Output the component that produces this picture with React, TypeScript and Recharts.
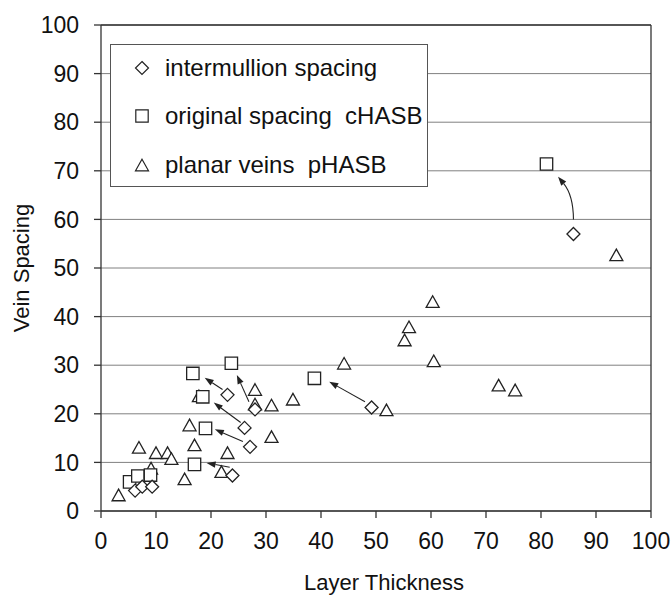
import React from "react";
import {
  ScatterChart, Scatter, XAxis, YAxis, CartesianGrid, Legend, ReferenceLine, Label,
} from "recharts";

const FONT = "'Liberation Sans', Arial, sans-serif";
const INK = "#222";

// intermullion spacing (diamonds)
const intermullion = [
  { x: 6.2, y: 4.2 }, { x: 7.5, y: 5.0 }, { x: 9.3, y: 5.0 }, { x: 23.9, y: 7.3 },
  { x: 27.1, y: 13.2 }, { x: 26.1, y: 17.1 }, { x: 28.0, y: 20.9 }, { x: 23.0, y: 23.9 },
  { x: 49.2, y: 21.3 }, { x: 85.9, y: 57.0 },
];

// original spacing cHASB (squares)
const original = [
  { x: 5.2, y: 6.0 }, { x: 6.7, y: 7.2 }, { x: 9.0, y: 7.4 }, { x: 17.0, y: 9.6 },
  { x: 19.0, y: 17.0 }, { x: 18.5, y: 23.5 }, { x: 23.7, y: 30.4 }, { x: 16.7, y: 28.3 },
  { x: 38.8, y: 27.3 }, { x: 81.0, y: 71.4 },
];

// planar veins pHASB (triangles)
const planar = [
  { x: 3.2, y: 3.3 }, { x: 9.1, y: 8.8 }, { x: 6.9, y: 13.1 }, { x: 10.0, y: 12.0 },
  { x: 12.1, y: 12.0 }, { x: 12.8, y: 10.8 }, { x: 15.2, y: 6.6 }, { x: 16.1, y: 17.7 },
  { x: 17.0, y: 13.6 }, { x: 17.8, y: 23.7 }, { x: 21.9, y: 8.1 }, { x: 23.0, y: 12.0 },
  { x: 28.0, y: 25.0 }, { x: 28.0, y: 22.0 }, { x: 31.0, y: 21.8 }, { x: 31.0, y: 15.3 },
  { x: 34.9, y: 23.0 }, { x: 44.2, y: 30.4 }, { x: 51.9, y: 20.8 }, { x: 55.2, y: 35.2 },
  { x: 56.0, y: 37.9 }, { x: 60.3, y: 43.1 }, { x: 60.5, y: 30.9 }, { x: 72.3, y: 25.9 },
  { x: 75.3, y: 24.9 }, { x: 93.7, y: 52.7 },
];

// arrows from intermullion point toward original spacing point (data units)
const arrows = [
  { x1: 6.2, y1: 4.7, x2: 5.5, y2: 6.0, bend: 0 },
  { x1: 7.5, y1: 5.0, x2: 7.0, y2: 6.4, bend: 0 },
  { x1: 9.25, y1: 5.0, x2: 9.25, y2: 6.4, bend: 0 },
  { x1: 23.4, y1: 9.0, x2: 19.2, y2: 9.9, bend: 0 },
  { x1: 25.8, y1: 14.3, x2: 20.7, y2: 16.8, bend: 0 },
  { x1: 25.4, y1: 18.2, x2: 20.5, y2: 22.3, bend: 0 },
  { x1: 22.1, y1: 25.0, x2: 18.85, y2: 27.4, bend: 0 },
  { x1: 26.9, y1: 22.5, x2: 24.7, y2: 28.0, bend: 0 },
  { x1: 48.0, y1: 22.5, x2: 41.5, y2: 26.6, bend: 0 },
  { x1: 85.9, y1: 60.0, x2: 83.1, y2: 68.8, bend: -8 },
];

const xTicks = [0, 10, 20, 30, 40, 50, 60, 70, 80, 90, 100];
const yTicks = [0, 10, 20, 30, 40, 50, 60, 70, 80, 90, 100];

const legendItems = [
  { name: "intermullion spacing", mark: "diamond" },
  { name: "original spacing\u00a0 cHASB", mark: "square" },
  { name: "planar veins\u00a0 pHASB", mark: "triangle" },
];

function markPath(kind: string, cx: number, cy: number) {
  if (kind === "diamond") {
    const r = 6.5;
    return `M${cx},${cy - r}L${cx + r},${cy}L${cx},${cy + r}L${cx - r},${cy}Z`;
  }
  if (kind === "square") {
    const h = 6.2;
    return `M${cx - h},${cy - h}H${cx + h}V${cy + h}H${cx - h}Z`;
  }
  const w = 6.5, h = 5.8;
  return `M${cx},${cy - h}L${cx + w},${cy + h}H${cx - w}Z`;
}

const shapeFor = (kind: string) => (p: any) => (
  <path d={markPath(kind, p.cx, p.cy)} fill="#fff" stroke={INK} strokeWidth={1.3} />
);

const arrowShape = (bend: number) => (p: any) => {
  const { x1, y1, x2, y2 } = p;
  if (x1 == null || x2 == null) return <g />;
  const dx = x2 - x1, dy = y2 - y1;
  const len = Math.hypot(dx, dy) || 1;
  // control point pushed sideways from the chord's midpoint
  const cx = (x1 + x2) / 2 + (dy / len) * bend;
  const cy = (y1 + y2) / 2 - (dx / len) * bend;
  const tx = bend ? x2 - cx : dx, ty = bend ? y2 - cy : dy;
  const tl = Math.hypot(tx, ty) || 1;
  const ux = tx / tl, uy = ty / tl;
  const hl = 9, hw = 3.2;
  const bx = x2 - ux * hl, by = y2 - uy * hl;
  const head = `M${x2},${y2}L${bx - uy * hw},${by + ux * hw}L${bx + uy * hw},${by - ux * hw}Z`;
  const d = bend ? `M${x1},${y1}Q${cx},${cy} ${bx},${by}` : `M${x1},${y1}L${bx},${by}`;
  return (
    <g>
      <path d={d} fill="none" stroke={INK} strokeWidth={1.1} />
      <path d={head} fill={INK} stroke="none" />
    </g>
  );
};

function LegendBox() {
  return (
    <div style={{
      position: "relative", width: 318, height: 143, boxSizing: "border-box",
      border: "1px solid #555", background: "#fff", fontFamily: FONT, fontSize: 24, color: "#111",
    }}>
      {legendItems.map((it, i) => (
        <div key={it.name} style={{ position: "absolute", left: 0, top: 23 + i * 48.3 - 15, height: 30, display: "flex", alignItems: "center", whiteSpace: "nowrap" }}>
          <svg width={54} height={30}>
            <path d={markPath(it.mark, 31, 15)} fill="#fff" stroke={INK} strokeWidth={1.2} />
          </svg>
          <span style={{ lineHeight: "30px" }}>{it.name}</span>
        </div>
      ))}
    </div>
  );
}

export default function App() {
  return (
    <div style={{ position: "absolute", left: 0, top: 0, width: 672, height: 595, background: "#fff" }}>
      <ScatterChart width={672} height={595} margin={{ top: 25, right: 21, bottom: 0, left: 0 }}>
        <CartesianGrid vertical={false} stroke="#808080" strokeWidth={1} />
        <XAxis
          type="number" dataKey="x" domain={[0, 100]} ticks={xTicks} height={84}
          tickSize={7} tickMargin={15} stroke="#333" strokeWidth={1.3}
          tick={{ fill: "#111", fontSize: 23, fontFamily: FONT }}
        >
          <Label
            content={() => (
              <text x={384} y={582} textAnchor="middle" dominantBaseline="central" fontSize={22} fontFamily={FONT} fill="#111">
                Layer Thickness
              </text>
            )}
          />
        </XAxis>
        <YAxis
          type="number" dataKey="y" domain={[0, 100]} ticks={yTicks} width={101}
          tickSize={7} tickMargin={15} stroke="#333" strokeWidth={1.3}
          tick={{ fill: "#111", fontSize: 23, fontFamily: FONT }}
        >
          <Label
            content={() => (
              <text x={21} y={268} transform="rotate(-90 21 268)" textAnchor="middle" dominantBaseline="central" fontSize={22} fontFamily={FONT} fill="#111">
                Vein Spacing
              </text>
            )}
          />
        </YAxis>
        <ReferenceLine y={100} stroke="#333" strokeWidth={1.3} />
        <ReferenceLine x={100} stroke="#333" strokeWidth={1.3} />
        <Legend
          layout="vertical" align="center" verticalAlign="middle"
          wrapperStyle={{ left: 110, top: 44, width: 318 }}
          content={() => <LegendBox />}
        />
        <Scatter name="planar veins pHASB" data={planar} shape={shapeFor("triangle")} isAnimationActive={false} />
        <Scatter name="original spacing cHASB" data={original} shape={shapeFor("square")} isAnimationActive={false} />
        <Scatter name="intermullion spacing" data={intermullion} shape={shapeFor("diamond")} isAnimationActive={false} />
        {arrows.map((a, i) => (
          <ReferenceLine
            key={i}
            segment={[{ x: a.x1, y: a.y1 }, { x: a.x2, y: a.y2 }]}
            shape={arrowShape(a.bend)}
          />
        ))}
      </ScatterChart>
    </div>
  );
}
